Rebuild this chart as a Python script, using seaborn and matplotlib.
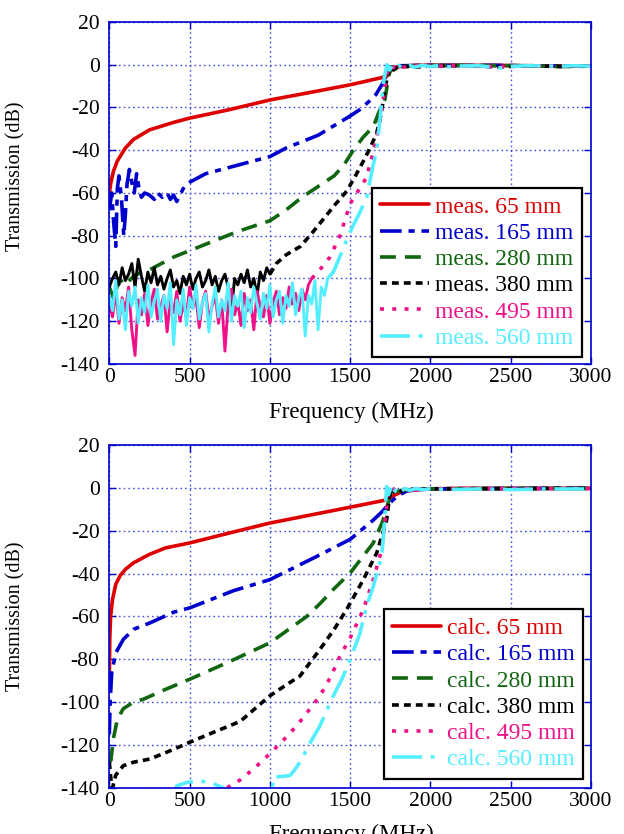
import numpy as np
import pandas as pd
import seaborn as sns
import matplotlib
matplotlib.use("Agg")
import matplotlib.pyplot as plt

# ---------------- data ----------------
labels_mm = ["65 mm", "165 mm", "280 mm", "380 mm", "495 mm", "560 mm"]
colors = ["#DD0000", "#0000CC", "#116611", "#000000", "#EE1188", "#55EEFF"]

tail_x = [1800, 1900, 2000, 2200, 2400, 2600, 2800, 3000]

# measured 65 mm
m65_x = [0, 10, 25, 50, 100, 150, 250, 400, 500, 750, 1000, 1250, 1500, 1700, 1727, 1745, 1760] + tail_x
m65_y = [-60, -55, -50, -45, -39, -35, -30.5, -27, -25, -21, -16.5, -13, -9.4, -6, -5.5, -3, -1.5,
         -1, -0.3, -0.2, -0.3, -0.3, -0.5, -0.6, -0.6]

# measured 165 mm
m165_x = [0, 15, 25, 40, 50, 60, 75, 90, 100, 110, 125, 140, 155, 170, 185, 200, 220, 250, 280, 300,
          330, 360, 380, 400, 420, 440, 460, 480, 500, 600, 700, 800, 900, 1000, 1100, 1200, 1300, 1400,
          1500, 1560, 1620, 1660, 1700, 1730, 1750, 1770] + tail_x
m165_y = [-68, -60, -72, -85, -58, -52, -62, -80, -70, -56, -49, -55, -60, -51, -58, -62, -60, -61, -63, -60,
          -62, -60, -63, -61, -64, -61, -58, -56, -55, -51, -49, -47, -45, -43, -39, -36, -33, -28.5,
          -24, -21, -17, -14, -9, -4, -1, -1.5,
          -0.5, -0.4, -0.3, -0.4, -0.3, -0.5, -0.6, -0.6]

# measured 280 mm
m280_x = [0, 30, 60, 100, 150, 200, 250, 300, 400, 500, 600, 700, 800, 900, 1000, 1100, 1200, 1300, 1400,
          1460, 1520, 1580, 1644, 1680, 1717, 1740, 1760, 1780] + tail_x
m280_y = [-104, -110, -100, -103, -99, -97, -96, -94, -90, -87, -84, -81, -78, -75.5, -73, -68, -62, -57, -52,
          -47, -40, -34, -29, -22, -16, -5, -1, -2,
          -1, -0.5, -0.4, -0.3, -0.5, -0.4, -0.9, -0.7]

# measured 380 mm
m380_x = list(range(0, 1001, 20)) + [1040, 1100, 1190, 1260, 1330, 1400, 1480, 1540, 1590, 1630, 1665,
                                     1690, 1710, 1730, 1748, 1770] + tail_x
m380_y = [-104, -100, -97, -103, -95, -101, -98, -93, -104, -91, -99, -106, -97, -102, -95, -103, -99,
          -105, -100, -96, -104, -101, -107, -99, -103, -98, -105, -100, -97, -104, -101, -96, -103, -99,
          -106, -101, -98, -104, -116, -100, -103, -98, -102, -96, -104, -100, -108, -97, -101, -95, -98,
          -93, -89, -85, -79, -72.5, -66, -59, -51, -44, -38, -32, -24, -15, -6, -1, -2.5,
          -0.5, -1.2, -0.6, -0.4, -1, -0.6, -0.8, -0.6]

# measured 495 mm
m495_x = list(range(0, 1261, 20)) + [1300, 1374, 1436, 1470, 1500, 1550, 1600, 1640, 1665, 1690, 1706,
                                     1725, 1740, 1760, 1780] + tail_x
m495_y = [-112, -118, -106, -121, -109, -115, -104, -124, -136, -110, -117, -107, -122, -111, -105, -119,
          -113, -108, -125, -110, -116, -106, -120, -112, -118, -104, -114, -109, -123, -111, -106, -119,
          -113, -108, -121, -110, -134, -112, -105, -117, -111, -122, -107, -115, -110, -124, -106, -113,
          -118, -108, -121, -111, -106, -117, -109, -114, -104, -112, -107, -115, -105, -110, -103, -100,
          -97, -90, -80, -72, -65, -59, -53, -42, -34, -24, -16, -6, -1, -2, -0.5,
          -1.5, -0.4, -0.8, -0.3, -0.9, -0.5, -0.7, -0.6]

# measured 560 mm
m560_x = list(range(0, 1361, 20)) + [1395, 1440, 1478, 1520, 1561, 1603, 1640, 1665, 1690, 1706, 1720,
                                     1730, 1745, 1760, 1780, 1800, 1830, 1870, 1900, 1950, 2000, 2050,
                                     2100, 2200, 2300, 2400, 2450, 2500, 2600, 2700, 2800, 2900, 3000]
m560_y = [-108, -115, -101, -119, -110, -124, -106, -113, -104, -121, -109, -116, -103, -118, -111, -105,
          -120, -108, -114, -102, -131, -110, -117, -105, -122, -109, -114, -103, -119, -111, -107, -125,
          -112, -104, -118, -110, -115, -102, -120, -108, -113, -106, -123, -109, -116, -104, -112, -119,
          -107, -114, -103, -118, -110, -106, -121, -108, -113, -102, -117, -109, -105, -127, -108, -112,
          -101, -124, -104, -108, -100,
          -97, -89, -82, -75, -69, -62, -48, -40, -22, -9, -3, 0, -2.5, -0.5, -1.8, -0.3, -1.6, -0.4,
          -1.2, -0.3, -0.9, -0.4, -1.0, -0.6, -0.5, -1.2, -1.6, -0.8, -0.5, -0.6, -0.7, -0.5, -0.7]

# calculated 65 mm
c65_x = [0, 3, 8, 20, 40, 67, 100, 150, 250, 350, 500, 750, 1000, 1250, 1500, 1727, 1760, 1800, 1850,
         1900, 2000, 2200, 2600, 3000]
c65_y = [-88, -70, -60, -52, -45, -41, -38, -35, -31, -28, -25.7, -21, -16.4, -12.7, -9, -5.6, -4, -2.5,
         -1.5, -1, -0.5, -0.2, -0.2, -0.2]

# calculated 165 mm
c165_x = [0, 5, 15, 40, 87, 150, 253, 400, 500, 772, 1000, 1291, 1500, 1644, 1700, 1748, 1790, 1850,
          1900, 2000, 2500, 3000]
c165_y = [-115, -100, -86, -77, -70.7, -66, -63, -58, -56, -48, -42.8, -32, -24, -15, -11, -7, -4, -1.5,
          -0.8, -0.5, -0.3, -0.2]

# calculated 280 mm
c280_x = [0, 10, 25, 50, 87, 150, 212, 350, 500, 750, 1000, 1229, 1312, 1400, 1500, 1644, 1700, 1727,
          1745, 1760, 1780, 1800, 1850, 1900, 2000, 2500, 3000]
c280_y = [-128, -127, -117, -108, -103, -100, -98.6, -94, -89.3, -81, -72.3, -60, -54, -47, -39.7, -25.7,
          -16, -10, -4, -1, -2, -1.5, -1, -0.6, -0.4, -0.3, -0.2]

# calculated 380 mm
c380_x = [0, 10, 20, 40, 87, 150, 253, 400, 500, 650, 814, 1000, 1100, 1187, 1312, 1400, 1478, 1582,
          1665, 1727, 1745, 1755, 1770, 1790, 1820, 1850, 1900, 2000, 2500, 3000]
c380_y = [-128, -136, -140, -134, -129.6, -128, -126.5, -122, -118.7, -114, -109, -97, -92, -87.8, -75.3,
          -66, -56.7, -42.8, -30.4, -15, -4, 0, -2, -0.5, -1.5, -0.5, -0.7, -0.4, -0.3, -0.2]

# calculated 495 mm
c495_x = [700, 731, 814, 900, 1000, 1080, 1167, 1240, 1312, 1380, 1436, 1500, 1582, 1644, 1696, 1727,
          1740, 1760, 1780, 1800, 1850, 1900, 2000, 2500, 3000]
c495_y = [-145, -140, -136.3, -131, -124, -118, -111, -104, -97, -88, -78.5, -70, -56.7, -42.8, -28.8, -9,
          -1, -2, 0, -1.5, -0.5, -1, -0.4, -0.4, -0.3]

# calculated 560 mm
c560_x = [400, 420, 480, 544, 627, 680, 710, 730, 1005, 1021, 1125, 1150, 1187, 1250, 1312, 1395, 1450,
          1500, 1560, 1603, 1644, 1696, 1715, 1727, 1740, 1755, 1770, 1790, 1810, 1840, 1870, 1910, 1950,
          2000, 2100, 2300, 2500, 2700, 3000]
c560_y = [-145, -139, -137.5, -136.6, -137.4, -139, -140, -145, -150, -135, -134.2, -132, -128, -119, -111,
          -97, -89, -80, -68, -55, -45.9, -32, -15, 0.6, -3, 0.5, -2.5, 0, -1.8, -0.3, -1.2, -0.3, -0.9,
          -0.4, -0.8, -0.5, -0.8, -0.5, -0.5]

# end of the noisy floor of each measured trace (MHz); drawn as a continuous trace
meas_noise_end = [None, None, None, 1000, 1260, 1360]

x_ticks = [0, 500, 1000, 1500, 2000, 2500, 3000]
y_ticks = [-140, -120, -100, -80, -60, -40, -20, 0, 20]

# ---------------- styling ----------------
sns.set_theme(style="white")
plt.rcParams["font.family"] = ["Liberation Serif", "DejaVu Serif"]
plt.rcParams["axes.unicode_minus"] = False

dash_styles = [
    "-",
    (0, (6, 1.9, 1.7, 1.9)),
    (0, (4.4, 2.5)),
    (0, (1.9, 1.4)),
    (0, (1.1, 2.3)),
    (0, (8.3, 2.4, 1.1, 2.4)),
]
spine_blue = "#0000CC"
LW = 2.6

fig = plt.figure(figsize=(6.24, 8.34), dpi=100)
ax_top = fig.add_axes([0.1752, 0.5636, 0.772, 0.4101])
ax_bot = fig.add_axes([0.1752, 0.0552, 0.772, 0.4112])

panels = [
    (ax_top, "meas.", [(m65_x, m65_y), (m165_x, m165_y), (m280_x, m280_y), (m380_x, m380_y),
                       (m495_x, m495_y), (m560_x, m560_y)], meas_noise_end, (0.981, 0.02), 0.55, -0.111),
    (ax_bot, "calc.", [(c65_x, c65_y), (c165_x, c165_y), (c280_x, c280_y), (c380_x, c380_y),
                       (c495_x, c495_y), (c560_x, c560_y)], [None] * 6, (0.984, 0.027), 0.5, -0.104),
]

for ax, prefix, series, noise_end, leg_anchor, ylab_y, xlab_y in panels:
    handles = []
    for (xs, ys), col, ls, lab, nend in zip(series, colors, dash_styles, labels_mm, noise_end):
        df = pd.DataFrame({"Frequency": xs, "Transmission": ys})
        if nend is not None:
            noisy = df[df["Frequency"] <= nend]
            smooth = df[df["Frequency"] >= nend]
            sns.lineplot(data=noisy, x="Frequency", y="Transmission", ax=ax, color=col,
                         linewidth=LW * 0.8, linestyle="-", estimator=None, sort=False,
                         legend=False)
            df = smooth
        sns.lineplot(data=df, x="Frequency", y="Transmission", ax=ax, color=col,
                     linewidth=LW, linestyle=ls, estimator=None, sort=False,
                     legend=False)
        handles.append(ax.lines[-1])

    ax.set_xlim(0, 3000)
    ax.set_ylim(-140, 20)
    ax.set_xticks(x_ticks)
    ax.set_yticks(y_ticks)
    ax.set_xticklabels([str(v) for v in x_ticks])
    ax.set_yticklabels([str(v) for v in y_ticks])
    ax.grid(True, color="#2233DD", linestyle=(0, (1.2, 2.2)), linewidth=1.0, alpha=0.85)
    ax.set_axisbelow(True)
    for sp in ax.spines.values():
        sp.set_color(spine_blue)
        sp.set_linewidth(1.2)
        sp.set_visible(True)
    ax.tick_params(axis="both", which="both", direction="in", length=5, width=1.0,
                   color=spine_blue, top=True, right=True, bottom=True, left=True,
                   labelsize=15.5, labelcolor="black")
    ax.tick_params(axis="x", pad=3)
    ax.tick_params(axis="y", pad=7)
    ax.set_xlabel("Frequency (MHz)", fontsize=16.5, color="black")
    ax.set_ylabel("Transmission (dB)", fontsize=14.5, color="black")
    ax.xaxis.set_label_coords(0.502, xlab_y)
    ax.yaxis.set_label_coords(-0.175, ylab_y)

    leg = ax.legend(handles=handles, labels=[f"{prefix} {l}" for l in labels_mm],
                    loc="lower right", bbox_to_anchor=leg_anchor, borderaxespad=0,
                    fontsize=17, handlelength=2.1, handletextpad=0.25, labelspacing=0.2,
                    borderpad=0.35, fancybox=False, framealpha=1, edgecolor="black",
                    facecolor="white")
    leg.get_frame().set_linewidth(1.6)
    for txt, col in zip(leg.get_texts(), colors):
        txt.set_color(col)

fig.savefig("out.png", dpi=100)
